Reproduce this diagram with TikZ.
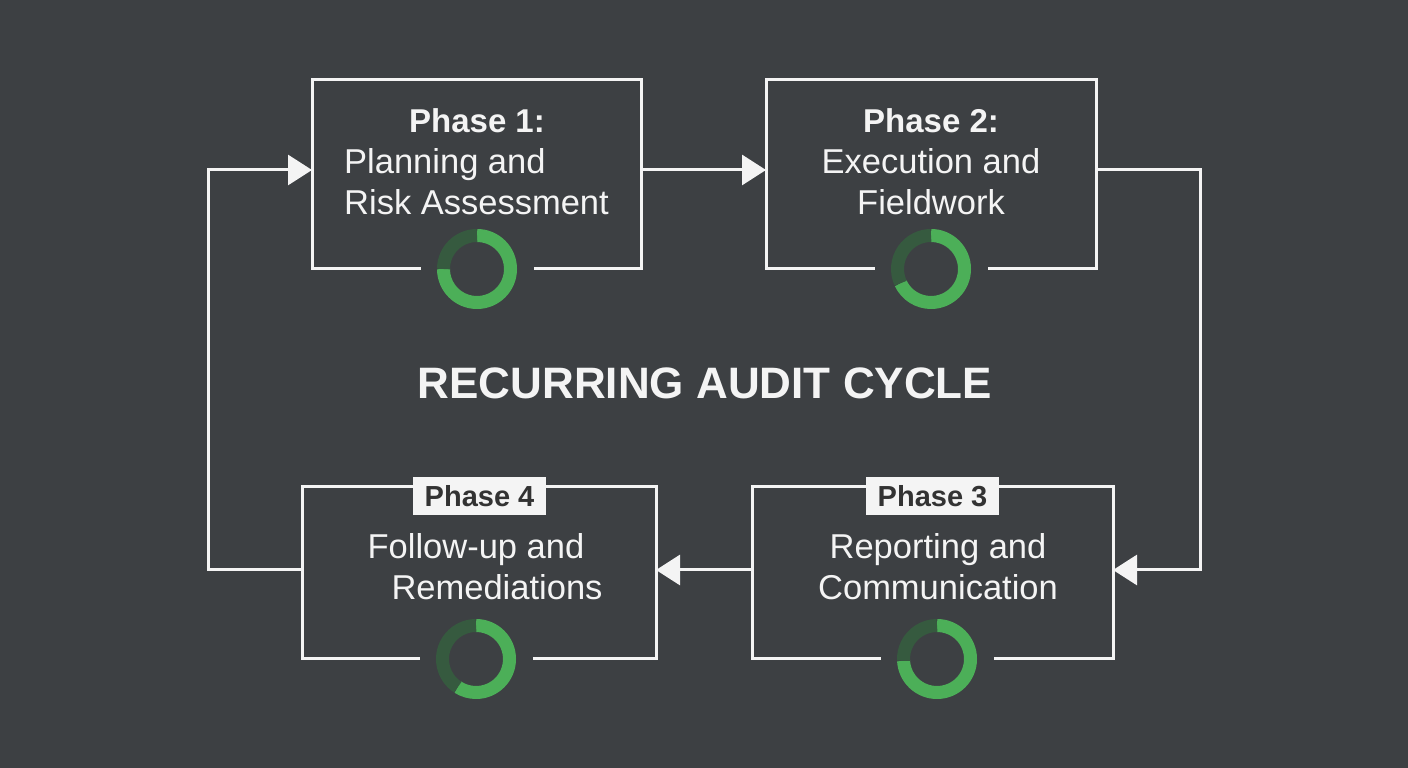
\documentclass[tikz,border=0pt]{standalone}
\usepackage{fontspec}
\setmainfont{Liberation Sans}
\usetikzlibrary{arrows.meta,calc}
\definecolor{bg}{HTML}{3D4043}
\definecolor{fg}{HTML}{F4F4F4}
\definecolor{gbright}{HTML}{4CAF58}
\definecolor{gdark}{HTML}{365A3F}
\definecolor{labeltext}{HTML}{333333}
\newcommand\mydonut[2]{%
  \draw[gbright,line width=13pt] (#1) ++(90:33.5) arc[start angle=90,end angle=#2,radius=33.5];
  \draw[gdark,line width=13pt] (#1) ++(#2:33.5) arc[start angle=#2,end angle=-270,radius=33.5];
}
\tikzset{
  boxarea/.style={rectangle,inner sep=0pt,outer sep=0pt},
  outline/.style={draw=fg,line width=3pt,line join=miter},
  conn/.style={draw=fg,line width=3pt,-{Triangle[length=24pt,width=30pt]}},
  phasetitle/.style={text=fg,font=\bfseries\fontsize{33}{40}\selectfont,inner sep=0pt},
  body/.style={text=fg,font=\fontsize{34.5}{41}\selectfont,inner sep=0pt},
  phaselabel/.style={fill=fg,text=labeltext,font=\bfseries\fontsize{29}{34}\selectfont,minimum width=133pt,minimum height=38pt,inner sep=0pt},
  maintitle/.style={text=fg,font=\bfseries\fontsize{44}{50}\selectfont,inner sep=0pt}
}
\begin{document}
\begin{tikzpicture}[x=1pt,y=1pt]
\fill[bg] (0,0) rectangle (1408,768);
\useasboundingbox (0,0) rectangle (1408,768);

% box areas
\node[boxarea,minimum width=329pt,minimum height=189pt] (b1) at (476.5,593.5) {};
\node[boxarea,minimum width=330pt,minimum height=189pt] (b2) at (931,593.5) {};
\node[boxarea,minimum width=361pt,minimum height=172pt] (b3) at (932.5,195) {};
\node[boxarea,minimum width=354pt,minimum height=172pt] (b4) at (479,195) {};

% donut centres
\coordinate (d1) at (477,499);
\coordinate (d2) at (931,499);
\coordinate (d3) at (937,109);
\coordinate (d4) at (476,109);

% outlines with gap for donut
\draw[outline] ($(d1)+(-56.5,0)$) -- (b1.south west) -- (b1.north west) -- (b1.north east) -- (b1.south east) -- ($(d1)+(56.5,0)$);
\draw[outline] ($(d2)+(-56.5,0)$) -- (b2.south west) -- (b2.north west) -- (b2.north east) -- (b2.south east) -- ($(d2)+(56.5,0)$);
\draw[outline] ($(d3)+(-56.5,0)$) -- (b3.south west) -- (b3.north west) -- (b3.north east) -- (b3.south east) -- ($(d3)+(56.5,0)$);
\draw[outline] ($(d4)+(-56.5,0)$) -- (b4.south west) -- (b4.north west) -- (b4.north east) -- (b4.south east) -- ($(d4)+(56.5,0)$);

% donuts
\mydonut{d1}{-180}
\mydonut{d2}{-155}
\mydonut{d3}{-177}
\mydonut{d4}{-123}

% texts
\node[phasetitle] (t1) at (477,647) {Phase 1:};
\node[body,align=left,anchor=west] (t1b) at (344,586.5) {Planning and\\Risk Assessment};
\node[phasetitle] (t2) at (931,647) {Phase 2:};
\node[body,align=center] (t2b) at (931,586.5) {Execution and\\Fieldwork};
\node[body,align=center] (t3b) at (938,201) {Reporting and\\Communication};
\node[body] (t4a) at (476,218) {Follow-up and};
\node[body] (t4b) at (497,181) {Remediations};
\node[phaselabel] (l4) at (479.5,272) {Phase 4};
\node[phaselabel] (l3) at (932.5,272) {Phase 3};
\node[maintitle] (title) at (705,385) {RECURRING AUDIT CYCLE};

% connectors
\coordinate (cR) at (1200,400);
\coordinate (cL) at (208,400);
\draw[conn] ([yshift=4.5pt]b1.east) -- ([yshift=4.5pt]b2.west);
\draw[conn] ([yshift=4.5pt]b2.east) -| (cR) |- ([yshift=3pt]b3.east);
\draw[conn] ([yshift=3pt]b3.west) -- ([yshift=3pt]b4.east);
\draw[conn] ([yshift=3pt]b4.west) -| (cL) |- ([yshift=4.5pt]b1.west);
\end{tikzpicture}
\end{document}
